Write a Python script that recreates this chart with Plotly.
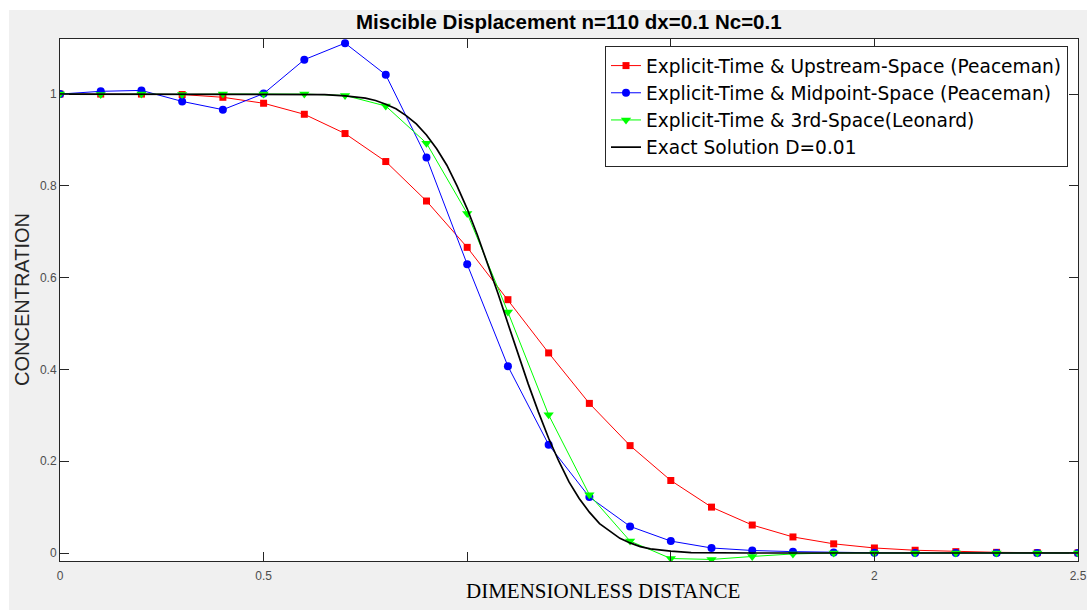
import plotly.graph_objects as go

# ---------------- data ----------------
x_num = [0.0, 0.1, 0.2, 0.3, 0.4, 0.5, 0.6, 0.7, 0.8, 0.9, 1.0, 1.1, 1.2,
         1.3, 1.4, 1.5, 1.6, 1.7, 1.8, 1.9, 2.0, 2.1, 2.2, 2.3, 2.4, 2.5]

upstream = [1.0, 1.0, 1.0, 0.999, 0.993, 0.980, 0.956, 0.914, 0.853, 0.767,
            0.666, 0.552, 0.436, 0.326, 0.234, 0.158, 0.100, 0.061, 0.035,
            0.020, 0.011, 0.006, 0.003, 0.0015, 0.0007, 0.0003]

midpoint = [1.0, 1.006, 1.008, 0.984, 0.966, 1.001, 1.075, 1.111, 1.042,
            0.862, 0.629, 0.407, 0.236, 0.122, 0.058, 0.026, 0.011, 0.0055,
            0.003, 0.001, 0.0005, 0.0002, 0.0, 0.0, 0.0, 0.0]

third = [1.0, 0.999, 1.0, 0.999, 1.0, 1.0, 1.0, 0.997, 0.974, 0.893, 0.740,
         0.525, 0.301, 0.127, 0.026, -0.012, -0.014, -0.0075, -0.002, 0.0,
         0.0, 0.0, 0.0, 0.0, 0.0, 0.0]

x_exact = [0.0, 0.1, 0.2, 0.3, 0.4, 0.5, 0.6, 0.65, 0.7, 0.725, 0.75, 0.775,
           0.8, 0.825, 0.85, 0.875, 0.9, 0.925, 0.95, 0.975, 1.0, 1.025, 1.05,
           1.075, 1.1, 1.125, 1.15, 1.175, 1.2, 1.225, 1.25, 1.275, 1.3, 1.325,
           1.35, 1.375, 1.4, 1.425, 1.45, 1.475, 1.5, 1.55, 1.6, 1.7, 1.8, 1.9,
           2.0, 2.1, 2.2, 2.3, 2.4, 2.5]
exact = [1.0, 1.0, 1.0, 1.0, 1.0, 1.0, 1.0, 0.999, 0.996, 0.994, 0.991, 0.986,
         0.978, 0.968, 0.953, 0.935, 0.911, 0.881, 0.845, 0.800, 0.750, 0.693,
         0.632, 0.567, 0.500, 0.433, 0.368, 0.307, 0.250, 0.200, 0.155, 0.119,
         0.089, 0.064, 0.047, 0.032, 0.022, 0.014, 0.009, 0.006, 0.004, 0.001,
         0.0004, 0.0, 0.0, 0.0, 0.0, 0.0, 0.0, 0.0, 0.0, 0.0]

names = ["Explicit-Time & Upstream-Space (Peaceman)",
         "Explicit-Time & Midpoint-Space (Peaceman)",
         "Explicit-Time & 3rd-Space(Leonard)",
         "Exact Solution D=0.01"]

x_ticks = [0, 0.5, 1, 1.5, 2, 2.5]
x_ticktext = ["0", "0.5", "", "", "2", "2.5"]
y_ticks = [0, 0.2, 0.4, 0.6, 0.8, 1]
y_ticktext = ["0", "0.2", "0.4", "0.6", "0.8", "1"]

# ---------------- figure ----------------
W, H = 1087, 610
ML, MR, MT, MB = 60, 9, 39, 49
PW, PH = W - ML - MR, H - MT - MB


def px(xp):
    return (xp - ML) / PW


def py(yp):
    return 1 - (yp - MT) / PH


fig = go.Figure()
fig.add_trace(go.Scatter(x=x_num, y=upstream, name=names[0], mode="lines+markers",
                         line=dict(color="#ff0000", width=1),
                         marker=dict(symbol="square", size=7, color="#ff0000")))
fig.add_trace(go.Scatter(x=x_num, y=midpoint, name=names[1], mode="lines+markers",
                         line=dict(color="#0000ff", width=1),
                         marker=dict(symbol="circle", size=8, color="#0000ff")))
fig.add_trace(go.Scatter(x=x_num, y=third, name=names[2], mode="lines+markers",
                         line=dict(color="#00ff00", width=1),
                         marker=dict(symbol="triangle-down", size=9, color="#00ff00")))
fig.add_trace(go.Scatter(x=x_exact, y=exact, name=names[3], mode="lines",
                         line=dict(color="#000000", width=1.7)))

axis_common = dict(showgrid=False, zeroline=False, showline=True, linecolor="#262626",
                   linewidth=1, mirror="ticks", ticks="inside", ticklen=9,
                   tickcolor="#262626", tickwidth=1, automargin=False,
                   tickfont=dict(family="Liberation Sans, Arial", size=12, color="#4d4d4d"))

fig.update_xaxes(range=[0, 2.5], tickvals=x_ticks, ticktext=x_ticktext,
                 ticklabelstandoff=4, **axis_common)
fig.update_yaxes(range=[-0.0174, 1.12], tickvals=y_ticks, ticktext=y_ticktext, **axis_common)

fig.update_layout(
    width=W, height=H,
    margin=dict(l=ML, r=MR, t=MT, b=MB, pad=0, autoexpand=False),
    paper_bgcolor="#f0f0f0",
    plot_bgcolor="#ffffff",
    showlegend=True,
    legend=dict(x=px(1068), y=py(46), xanchor="right", yanchor="top",
                bgcolor="#ffffff", bordercolor="#262626", borderwidth=1,
                font=dict(family="DejaVu Sans", size=18.6, color="#000000"),
                traceorder="normal", itemwidth=30),
    shapes=[
        dict(type="rect", xref="paper", yref="paper", x0=px(0), x1=px(W), y0=py(10), y1=py(0),
             fillcolor="#ffffff", line=dict(width=0), layer="below"),
        dict(type="rect", xref="paper", yref="paper", x0=px(0), x1=px(9), y0=py(H), y1=py(0),
             fillcolor="#ffffff", line=dict(width=0), layer="below"),
    ],
    annotations=[
        dict(text="<b>Miscible Displacement n=110 dx=0.1 Nc=0.1</b>", xref="paper", yref="paper",
             x=px(569), y=py(22), xanchor="center", yanchor="middle", showarrow=False,
             font=dict(family="Liberation Sans, Arial", size=20.5, color="#000000")),
        dict(text="DIMENSIONLESS DISTANCE", xref="paper", yref="paper",
             x=px(603), y=py(591), xanchor="center", yanchor="middle", showarrow=False,
             font=dict(family="Liberation Serif, Times New Roman", size=21, color="#000000")),
        dict(text="CONCENTRATION", xref="paper", yref="paper", textangle=-90,
             x=px(22), y=py(300), xanchor="center", yanchor="middle", showarrow=False,
             font=dict(family="Liberation Sans, Arial", size=20, color="#262626")),
    ],
)

fig.write_html("out.html")
